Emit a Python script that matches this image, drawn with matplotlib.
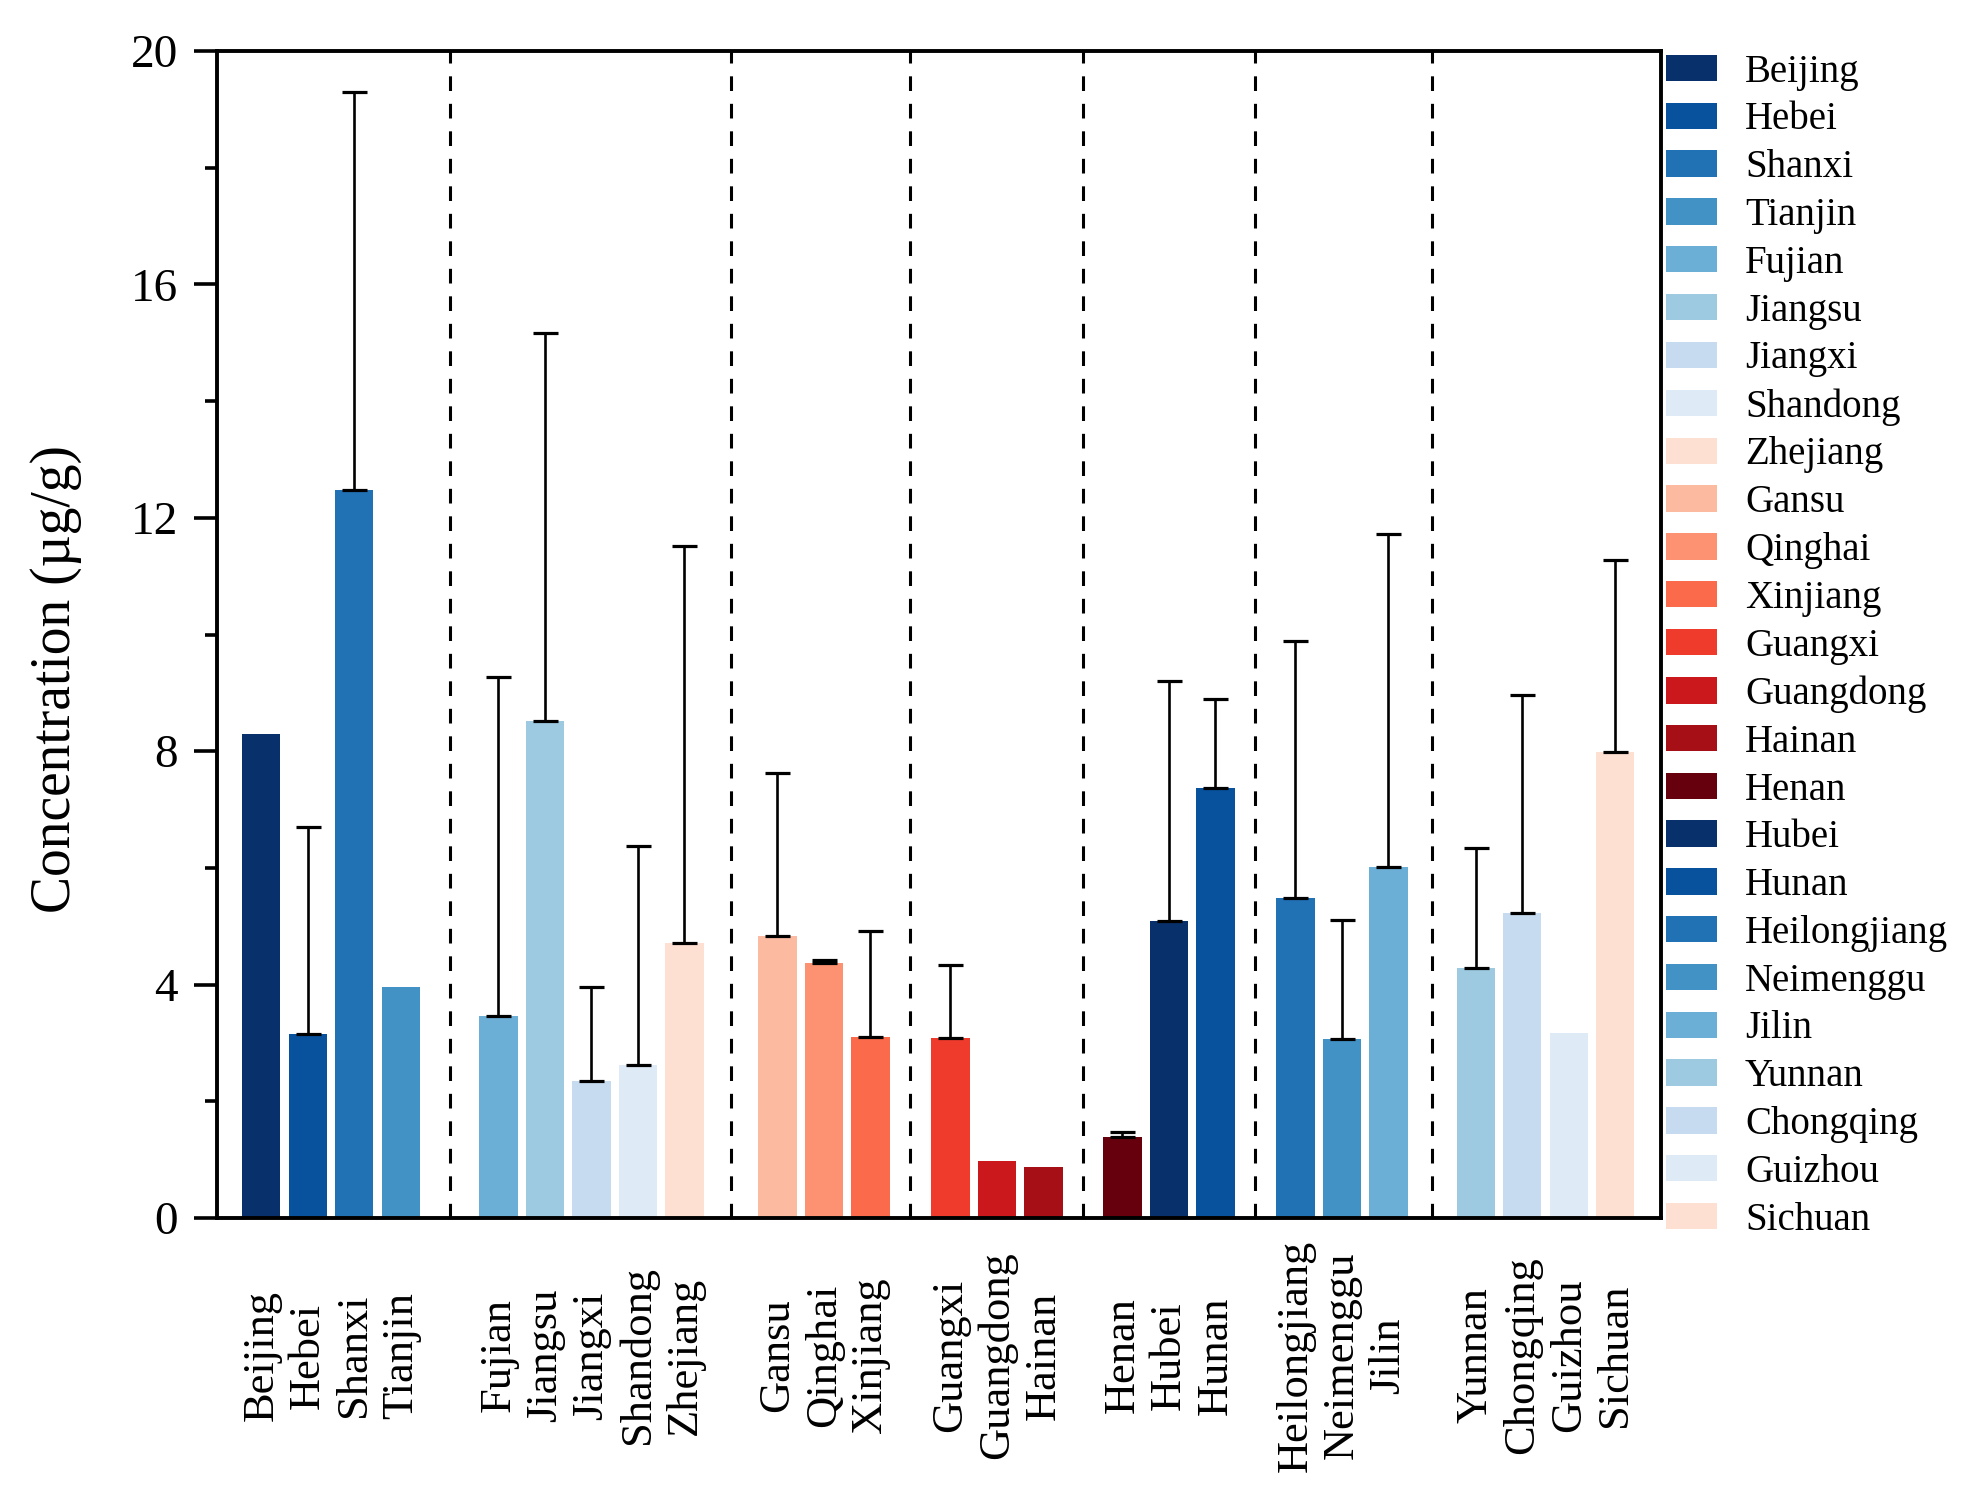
import numpy as np
import matplotlib
matplotlib.use('Agg')
import matplotlib.pyplot as plt
from matplotlib.ticker import MultipleLocator

# ---------------- data ----------------
provinces = ['Beijing', 'Hebei', 'Shanxi', 'Tianjin',
             'Fujian', 'Jiangsu', 'Jiangxi', 'Shandong', 'Zhejiang',
             'Gansu', 'Qinghai', 'Xinjiang',
             'Guangxi', 'Guangdong', 'Hainan',
             'Henan', 'Hubei', 'Hunan',
             'Heilongjiang', 'Neimenggu', 'Jilin',
             'Yunnan', 'Chongqing', 'Guizhou', 'Sichuan']
group_sizes = [4, 5, 3, 3, 3, 3, 4]
means = [8.30, 3.16, 12.48, 3.96,
         3.46, 8.52, 2.35, 2.63, 4.72,
         4.83, 4.37, 3.10,
         3.09, 0.98, 0.88,
         1.39, 5.09, 7.37,
         5.49, 3.07, 6.02,
         4.29, 5.23, 3.17, 7.98]
nan = float('nan')
sds = [nan, 3.54, 6.81, nan,
       5.81, 6.65, 1.61, 3.74, 6.79,
       2.80, 0.06, 1.82,
       1.25, nan, nan,
       0.09, 4.11, 1.52,
       4.40, 2.04, 5.70,
       2.05, 3.74, nan, 3.30]

# ---------------- style ----------------
colors = ['#08306b', '#08519c', '#2171b5', '#4292c6',
          '#6baed6', '#9ecae1', '#c6dbef', '#deebf7', '#fee0d2',
          '#fcbba1', '#fc9272', '#fb6a4a',
          '#ef3b2c', '#cb181d', '#a50f15',
          '#67000d', '#08306b', '#08519c',
          '#2171b5', '#4292c6', '#6baed6',
          '#9ecae1', '#c6dbef', '#deebf7', '#fee0d2']
group_gaps = [2.1, 2.0, 1.72, 1.7, 1.72, 1.88]

plt.rcParams['font.family'] = ['Liberation Serif', 'DejaVu Serif']

W, H, DPI = 19.71, 14.96, 100
fig = plt.figure(figsize=(W, H), dpi=DPI)
ax = fig.add_axes([216.7 / 1971, 1 - 1218 / 1496, (1661.3 - 216.7) / 1971, (1218 - 51) / 1496])

# bar positions from group structure
xpos = []
p = 0.0
for g, n in enumerate(group_sizes):
    if g > 0:
        p += group_gaps[g - 1] - 1
    for _ in range(n):
        xpos.append(p)
        p += 1
xpos = np.array(xpos)
means_a = np.array(means)
sds_a = np.array(sds)

ax.bar(xpos, means_a, width=0.824, color=colors, label=provinces,
       edgecolor='none', zorder=2)

mask = ~np.isnan(sds_a)
ax.errorbar(xpos[mask], means_a[mask],
            yerr=[np.zeros(mask.sum()), sds_a[mask]],
            fmt='none', ecolor='black', elinewidth=1.9,
            capsize=9, capthick=2.3, zorder=3)

# dashed separators between groups
ends = np.cumsum(group_sizes)
for e in ends[:-1]:
    xm = (xpos[e - 1] + xpos[e]) / 2
    ax.axvline(xm, color='black', lw=2.2, linestyle=(0, (4.8, 4.2)), zorder=1)

ax.set_xlim(-0.96, xpos[-1] + 0.99)
ax.set_ylim(0, 20)
ax.yaxis.set_major_locator(MultipleLocator(4))
ax.yaxis.set_minor_locator(MultipleLocator(2))
ax.tick_params(axis='y', which='major', length=16.8, width=2.6, pad=11,
               labelsize=34, direction='out', right=False)
ax.tick_params(axis='y', which='minor', length=8.4, width=2.6,
               direction='out', right=False)
ax.set_xticks(xpos)
ax.set_xticklabels(provinces)
ax.tick_params(axis='x', which='both', length=0, pad=99, labelsize=32)
plt.setp(ax.get_xticklabels(), rotation=90, va='center', ha='center')

for s in ax.spines.values():
    s.set_linewidth(2.8)

ax.set_ylabel('Concentration (µg/g)', fontsize=40)
ax.yaxis.set_label_coords(-0.0935, 0.462)

# legend, tuned so rows land at measured positions
fs_px = 28 * DPI / 72.0
target_first = 1496 - 68.0
target_last = 1496 - 1216.0
target_left = 1665.6
ls = 0.2
ax_x, ax_y = 1665.6 / 1971, 1 - 46 / 1496
for _ in range(4):
    leg = ax.legend(loc='upper left', bbox_to_anchor=(ax_x, ax_y),
                    bbox_transform=fig.transFigure, frameon=False,
                    fontsize=28, handlelength=1.31, handleheight=0.67,
                    handletextpad=0.73, labelspacing=ls,
                    borderpad=0, borderaxespad=0)
    fig.canvas.draw()
    r = fig.canvas.get_renderer()
    exts = [pp.get_window_extent(r) for pp in leg.get_patches()]
    cy = [(e.y0 + e.y1) / 2 for e in exts]
    pitch = (cy[0] - cy[-1]) / (len(cy) - 1)
    tpitch = (target_first - target_last) / (len(cy) - 1)
    ls += (tpitch - pitch) / fs_px
    ax_y += (target_first - cy[0]) / (1496.0)
    ax_x += (target_left - exts[0].x0) / 1971.0

fig.savefig('out.png', dpi=DPI)
